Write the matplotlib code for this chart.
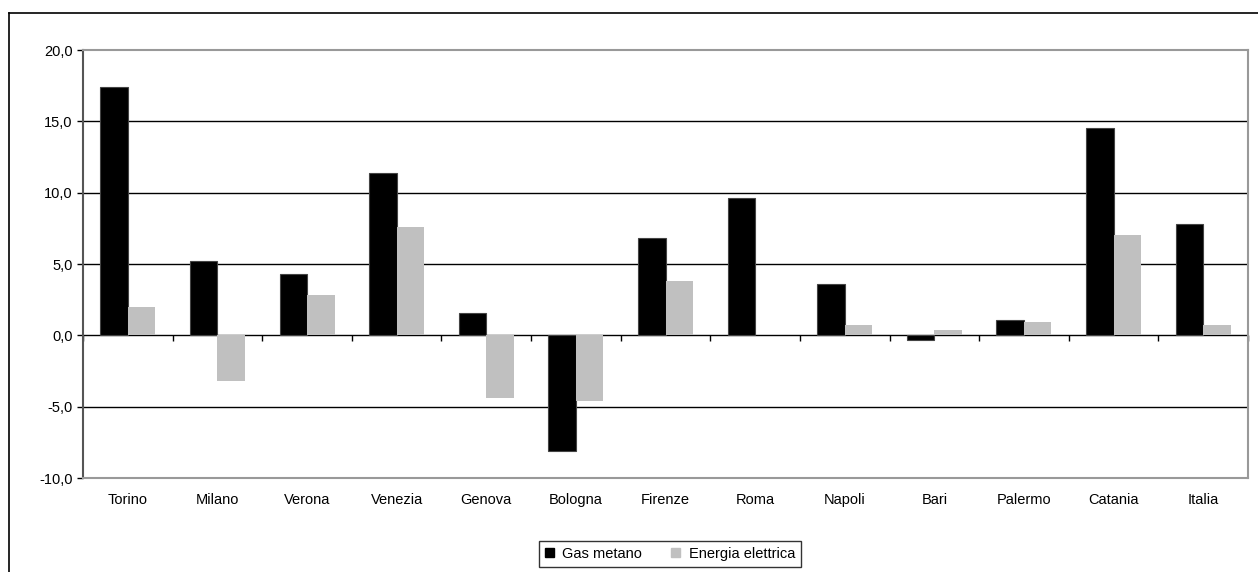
import numpy as np
import matplotlib
matplotlib.use("Agg")
import matplotlib.pyplot as plt
from matplotlib.lines import Line2D
from matplotlib.patches import Patch

plt.rcParams['font.family'] = ['Liberation Sans', 'DejaVu Sans']

cities = ["Torino", "Milano", "Verona", "Venezia", "Genova", "Bologna", "Firenze",
          "Roma", "Napoli", "Bari", "Palermo", "Catania", "Italia"]
gas_metano = [17.4, 5.2, 4.3, 11.4, 1.6, -8.1, 6.8, 9.6, 3.6, -0.3, 1.1, 14.5, 7.8]
energia_elettrica = [2.0, -3.2, 2.8, 7.6, -4.4, -4.6, 3.8, 0.0, 0.7, 0.4, 0.9, 7.0, 0.7]
y_ticks = [-10, -5, 0, 5, 10, 15, 20]

FS = 10.5
W, H = 1258, 572
fig = plt.figure(figsize=(W / 100, H / 100), dpi=100)
ax = fig.add_axes([83 / W, 1 - 478 / H, (1248 - 83) / W, (478 - 50) / H])

x = np.arange(len(cities))
bw = 0.307
ax.bar(x - bw / 2, gas_metano, bw, color="#000000", edgecolor="#444444",
       linewidth=0.8, zorder=3, label="Gas metano")
ax.bar(x + bw / 2, energia_elettrica, bw, color="#C0C0C0", linewidth=0,
       zorder=3, label="Energia elettrica")

ax.set_xlim(-0.5, len(cities) - 0.5)
ax.set_ylim(-10, 20)
ax.set_yticks(y_ticks)
ax.set_yticklabels([f"{v:.1f}".replace(".", ",") for v in y_ticks], fontsize=FS)
ax.tick_params(axis="y", length=4.3, width=1, color="#000000", pad=3)

# horizontal gridlines and the zero line
for v in y_ticks:
    if -10 < v < 20:
        ax.axhline(v, color="#000000", linewidth=1.0, zorder=2)

ax.set_xticks(x)
ax.set_xticklabels(cities, fontsize=FS)
ax.tick_params(axis="x", length=0, pad=11)

for side in ["top", "right", "bottom"]:
    ax.spines[side].set_color("#999999")
    ax.spines[side].set_linewidth(1.5)
ax.spines["left"].set_color("#555555")
ax.spines["left"].set_linewidth(1.5)

# category separator ticks hanging below the zero line
sec = ax.secondary_xaxis(10 / 30)
sec.spines["bottom"].set_visible(False)
sec.set_xticks(np.arange(-0.5, len(cities) + 0.5, 1.0))
sec.set_xticklabels([])
sec.tick_params(axis="x", length=4.3, width=1, color="#000000", direction="out")

# legend box below the chart
handles = [Patch(facecolor="#000000", edgecolor="#000000"),
           Patch(facecolor="#C0C0C0", edgecolor="#C0C0C0")]
leg = fig.legend(handles, ["Gas metano", "Energia elettrica"], loc="center",
                 bbox_to_anchor=(670 / W, 1 - 554 / H), ncol=2, fontsize=FS,
                 frameon=True, fancybox=False, handlelength=0.6, handleheight=0.6,
                 handletextpad=0.6, columnspacing=2.0, borderpad=0.4,
                 borderaxespad=0)
leg.get_frame().set_edgecolor("#000000")
leg.get_frame().set_linewidth(1.0)

# outer chart frame (left and top edges)
x0 = 8.5 / W
y0 = 1 - 13 / H
fig.add_artist(Line2D([x0, x0], [0, y0], color="#000000", linewidth=1.2))
fig.add_artist(Line2D([x0, 1], [y0, y0], color="#000000", linewidth=1.2))

fig.savefig("out.png", dpi=100, facecolor="white")
